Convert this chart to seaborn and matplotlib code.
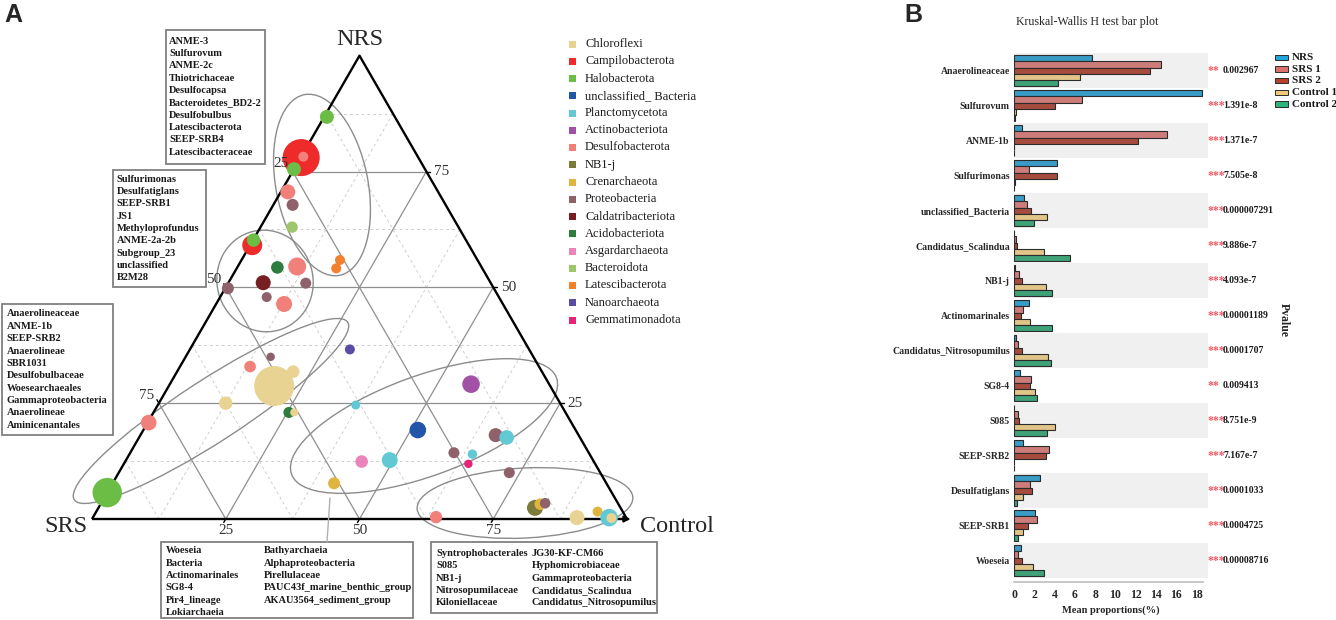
import numpy as np
import pandas as pd
import matplotlib
matplotlib.use("Agg")
import matplotlib.pyplot as plt
import seaborn as sns
from matplotlib.patches import Ellipse, Rectangle

sns.set_theme(style="white")
plt.rcParams["font.family"] = ["Liberation Serif", "DejaVu Serif"]

# ---------------- Panel A data (ternary: NRS / SRS / Control, %) ----------------
phyla = ["Chloroflexi", "Campilobacterota", "Halobacterota", "unclassified_ Bacteria",
         "Planctomycetota", "Actinobacteriota", "Desulfobacterota", "NB1-j",
         "Crenarchaeota", "Proteobacteria", "Caldatribacteriota", "Acidobacteriota",
         "Asgardarchaeota", "Bacteroidota", "Latescibacterota", "Nanoarchaeota",
         "Gemmatimonadota"]
phylum_colors = ["#E9D393", "#EE2A2A", "#6CBD45", "#2256A8", "#62C9D4", "#A152A6",
                 "#F1807B", "#7D7B3A", "#DFB540", "#8F626B", "#761E22", "#2E7D3F",
                 "#EA84BA", "#9EC66C", "#F2812E", "#5B4CA3", "#E8237A"]

tern_phylum = ["Halobacterota", "Campilobacterota", "Desulfobacterota", "Halobacterota",
               "Desulfobacterota", "Proteobacteria", "Bacteroidota", "Campilobacterota",
               "Halobacterota", "Acidobacteriota", "Desulfobacterota", "Caldatribacteriota",
               "Proteobacteria", "Proteobacteria", "Proteobacteria", "Desulfobacterota",
               "Latescibacterota", "Latescibacterota", "Proteobacteria", "Desulfobacterota",
               "Chloroflexi", "Chloroflexi", "Chloroflexi", "Acidobacteriota",
               "Chloroflexi", "Desulfobacterota", "Halobacterota", "Crenarchaeota",
               "Nanoarchaeota", "Actinobacteriota", "Planctomycetota", "unclassified_ Bacteria",
               "Proteobacteria", "Planctomycetota", "Proteobacteria", "Planctomycetota",
               "Gemmatimonadota", "Asgardarchaeota", "Planctomycetota", "Proteobacteria",
               "Desulfobacterota", "NB1-j", "Crenarchaeota", "Proteobacteria",
               "Chloroflexi", "Crenarchaeota", "Planctomycetota", "Chloroflexi"]
tern_nrs = [86.8, 78.0, 78.2, 75.5, 70.6, 67.8, 63.0, 59.1, 60.2, 54.3, 54.5, 51.0,
            50.9, 49.8, 47.9, 46.4, 55.9, 54.1, 35.0, 32.9, 28.7, 31.8, 25.0, 23.0,
            23.0, 20.8, 5.7, 7.7, 36.6, 29.1, 24.6, 19.2, 18.1, 17.6, 14.3, 14.0,
            11.9, 12.4, 12.7, 10.0, 0.4, 2.4, 3.2, 3.4, 0.3, 1.6, 0.3, 0.2]
tern_srs = [12.7, 21.9, 21.4, 24.5, 28.1, 28.6, 31.1, 40.5, 39.7, 38.2, 34.4, 42.5,
            34.6, 49.7, 43.4, 40.9, 25.7, 27.3, 49.1, 54.0, 51.6, 46.5, 62.5, 51.7,
            50.7, 79.0, 94.3, 50.9, 33.5, 14.6, 38.4, 29.5, 15.5, 13.7, 25.2, 21.9,
            23.7, 43.4, 38.0, 17.0, 35.5, 16.0, 14.6, 13.6, 9.2, 4.7, 3.2, 2.8]
tern_ctrl = [0.5, 0.1, 0.4, 0.0, 1.3, 3.6, 5.9, 0.4, 0.1, 7.5, 11.1, 6.5,
             14.5, 0.5, 8.7, 12.7, 18.4, 18.6, 15.9, 13.1, 19.7, 21.7, 12.5, 25.3,
             26.3, 0.2, 0.0, 41.4, 29.9, 56.3, 37.0, 51.3, 66.4, 68.7, 60.5, 64.1,
             64.4, 44.2, 49.3, 73.0, 64.1, 81.6, 82.2, 83.0, 90.5, 93.7, 96.5, 97.0]
tern_abund = [1.47, 10.3, 0.75, 1.47, 1.69, 1.08, 0.97, 3.0, 1.35, 1.19, 2.43, 1.69,
              0.91, 1.08, 0.75, 1.92, 0.75, 0.75, 0.53, 1.01, 12.0, 1.19, 1.35, 0.91,
              0.48, 1.83, 6.48, 1.08, 0.75, 2.32, 0.61, 2.07, 1.47, 1.60, 0.91, 0.66,
              0.53, 1.19, 1.92, 0.91, 1.15, 1.92, 1.01, 0.84, 1.69, 0.75, 2.32, 0.75]

box_texts = [
    ["ANME-3", "Sulfurovum", "ANME-2c", "Thiotrichaceae", "Desulfocapsa",
     "Bacteroidetes_BD2-2", "Desulfobulbus", "Latescibacterota", "SEEP-SRB4",
     "Latescibacteraceae"],
    ["Sulfurimonas", "Desulfatiglans", "SEEP-SRB1", "JS1", "Methyloprofundus",
     "ANME-2a-2b", "Subgroup_23", "unclassified", "B2M28"],
    ["Anaerolineaceae", "ANME-1b", "SEEP-SRB2", "Anaerolineae", "SBR1031",
     "Desulfobulbaceae", "Woesearchaeales", "Gammaproteobacteria", "Anaerolineae",
     "Aminicenantales"],
]
box4_col1 = ["Woeseia", "Bacteria", "Actinomarinales", "SG8-4", "Pir4_lineage", "Lokiarchaeia"]
box4_col2 = ["Bathyarchaeia", "Alphaproteobacteria", "Pirellulaceae",
             "PAUC43f_marine_benthic_group", "AKAU3564_sediment_group"]
box5_col1 = ["Syntrophobacterales", "S085", "NB1-j", "Nitrosopumilaceae", "Kiloniellaceae"]
box5_col2 = ["JG30-KF-CM66", "Hyphomicrobiaceae", "Gammaproteobacteria",
             "Candidatus_Scalindua", "Candidatus_Nitrosopumilus"]

# ---------------- Panel B data ----------------
taxa = ["Anaerolineaceae", "Sulfurovum", "ANME-1b", "Sulfurimonas", "unclassified_Bacteria",
        "Candidatus_Scalindua", "NB1-j", "Actinomarinales", "Candidatus_Nitrosopumilus",
        "SG8-4", "S085", "SEEP-SRB2", "Desulfatiglans", "SEEP-SRB1", "Woeseia"]
groups = ["NRS", "SRS 1", "SRS 2", "Control 1", "Control 2"]
group_colors = ["#22A5DD", "#D9716D", "#B73F2E", "#EEC97A", "#2EB37B"]
nrs_vals = [7.65, 18.49, 0.82, 4.2, 0.95, 0.02, 0.05, 1.44, 0.16, 0.56, 0.03, 0.89, 2.59, 2.04, 0.66]
srs1_vals = [14.45, 6.67, 15.04, 1.51, 1.25, 0.16, 0.53, 0.85, 0.36, 1.71, 0.36, 3.42, 1.54, 2.3, 0.36]
srs2_vals = [13.37, 4.04, 12.18, 4.2, 1.64, 0.26, 0.79, 0.69, 0.79, 1.54, 0.53, 3.15, 1.74, 1.38, 0.82]
ctrl1_vals = [6.54, 0.16, 0.03, 0.05, 3.22, 2.99, 3.19, 1.58, 3.32, 2.04, 4.04, 0.02, 0.92, 0.92, 1.84]
ctrl2_vals = [4.3, 0.08, 0.02, 0.02, 1.94, 5.48, 3.71, 3.71, 3.61, 2.23, 3.25, 0.01, 0.33, 0.36, 2.99]
pvalues = ["0.002967", "1.391e-8", "1.371e-7", "7.505e-8", "0.000007291", "9.886e-7",
           "4.093e-7", "0.00001189", "0.0001707", "0.009413", "8.751e-9", "7.167e-7",
           "0.0001033", "0.0004725", "0.00008716"]

# ---------------- figure ----------------
W, H = 1336, 620
fig = plt.figure(figsize=(W / 100, H / 100), dpi=100)

# ternary axes: unit triangle, SRS (0,0), Control (1,0), NRS (0.5, 0.866)
S = 535.0   # px per unit
X0, Y0 = 92.0, 519.0
axt = fig.add_axes([0, 0, 700 / W, 1])
xlim_t = (-X0 / S, (700 - X0) / S)
ylim_t = ((Y0 - H) / S, Y0 / S)

def tern_xy(n, s, c):
    n = np.asarray(n, float); s = np.asarray(s, float); c = np.asarray(c, float)
    tot = n + s + c
    n, c = n / tot, c / tot
    return c + n / 2.0, n * np.sqrt(3) / 2.0

# grid
for v in [0.125, 0.25, 0.375, 0.5, 0.625, 0.75, 0.875]:
    major = v in (0.25, 0.5, 0.75)
    kw = dict(color="#8f8f8f", lw=0.9, zorder=1) if major else \
        dict(color="#cfcfcf", lw=0.7, ls=(0, (3, 3)), zorder=1)
    for a, b in [((v, 1 - v, 0), (v, 0, 1 - v)),
                 ((1 - v, v, 0), (0, v, 1 - v)),
                 ((1 - v, 0, v), (0, 1 - v, v))]:
        xa, ya = tern_xy(*a); xb, yb = tern_xy(*b)
        axt.plot([xa, xb], [ya, yb], **kw)

# edges
tri_x, tri_y = tern_xy([0, 0, 1, 0], [1, 0, 0, 1], [0, 1, 0, 0])
axt.plot(tri_x, tri_y, color="black", lw=1.7, zorder=3, solid_capstyle="butt")
axt.annotate("", xy=(1.012, 0), xytext=(0.96, 0),
             arrowprops=dict(arrowstyle="-|>", color="black", lw=1.5, mutation_scale=9),
             zorder=3)

# ticks and tick labels
tl = 4 / S
for v in [0.25, 0.5, 0.75]:
    lab = str(int(v * 100))
    x, y = tern_xy(1 - v, v, 0)          # SRS on left edge
    axt.plot([x, x - 0.5 * tl], [y, y + 0.866 * tl], color="black", lw=1.0, zorder=3)
    axt.text(x - 12 / S, y + 8 / S, lab, ha="center", va="center", fontsize=11,
             color="#333333", zorder=6)
    x, y = tern_xy(v, 0, 1 - v)          # NRS on right edge
    axt.plot([x, x + tl], [y, y], color="black", lw=1.0, zorder=3)
    axt.text(x + 15 / S, y, lab, ha="center", va="center", fontsize=11,
             color="#333333", zorder=6)
    x, y = tern_xy(0, 1 - v, v)          # Control on bottom edge
    axt.plot([x, x - 0.5 * tl], [y, y - 0.866 * tl], color="black", lw=1.0, zorder=3)
    axt.text(x, y - 12 / S, lab, ha="center", va="center", fontsize=11,
             color="#333333", zorder=6)

axt.text(0.5, 0.866 + 16 / S, "NRS", ha="center", va="center", fontsize=17.5)
axt.text(-26 / S, -8 / S, "SRS", ha="center", va="center", fontsize=17.5)
axt.text(1.0 + 13 / S, -8 / S, "Control", ha="left", va="center", fontsize=17.5)

# group ellipses (cartesian ternary units)
ellipses = [((0.4299, 0.6243), 0.172, 0.344, 11),
            ((0.3234, 0.4449), 0.1794, 0.1907, 15),
            ((0.2224, 0.2019), 0.6093, 0.1159, 33),
            ((0.6206, 0.1738), 0.527, 0.187, 20),
            ((0.8093, 0.0299), 0.4037, 0.1308, 3)]
for c, w, h, ang in ellipses:
    axt.add_patch(Ellipse(c, w, h, angle=ang, fill=False, edgecolor="#8c8c8c",
                          lw=1.0, zorder=2, clip_on=False))

# points
px, py = tern_xy(tern_nrs, tern_srs, tern_ctrl)
dft = pd.DataFrame({"x": px, "y": py, "phylum": tern_phylum, "abund": tern_abund})
sns.scatterplot(data=dft, x="x", y="y", hue="phylum", hue_order=phyla,
                palette=dict(zip(phyla, phylum_colors)), size="abund",
                sizes=(0, 829), size_norm=(0, 12), linewidth=0, alpha=1,
                legend=False, ax=axt, zorder=4, clip_on=False)
axt.set_xlim(*xlim_t)
axt.set_ylim(*ylim_t)
axt.axis("off")

# ---------------- Panel B ----------------
px_per_unit = 10.15
xmax_b = 19.1
axb = fig.add_axes([1014 / W, (H - 582) / H, xmax_b * px_per_unit / W, 532 / H])
dfb = pd.DataFrame({
    "taxon": np.tile(taxa, len(groups)),
    "group": np.repeat(groups, len(taxa)),
    "value": np.concatenate([nrs_vals, srs1_vals, srs2_vals, ctrl1_vals, ctrl2_vals]),
})
for i in range(0, len(taxa), 2):
    axb.axhspan(i - 0.5, i + 0.5, color="#F0F0F0", lw=0, zorder=0)
sns.barplot(data=dfb, y="taxon", x="value", hue="group", order=taxa, hue_order=groups,
            palette=dict(zip(groups, group_colors)), width=0.86, orient="h",
            edgecolor="#2b2b2b", linewidth=0.8, legend=False, ax=axb, zorder=2)
axb.set_xlim(0, xmax_b)
axb.set_ylim(14.614, -0.586)
axb.set_xticks(np.arange(0, 19, 2))
axb.set_xlabel("Mean proportions(%)", fontsize=7.5, fontweight="bold", labelpad=3)
axb.set_ylabel("")
for side in ["top", "right", "left"]:
    axb.spines[side].set_visible(False)
axb.spines["bottom"].set_color("#bdbdbd")
axb.spines["bottom"].set_linewidth(1.2)
axb.spines["bottom"].set_bounds(0, 18.6)
axb.tick_params(axis="x", length=3, width=0.8, color="#444444", labelsize=8.5, pad=2)
axb.tick_params(axis="y", length=0, labelsize=7, pad=3)
for t in axb.get_xticklabels() + axb.get_yticklabels():
    t.set_fontweight("bold")
axb.set_facecolor("white")

for i, p in enumerate(pvalues):
    pv = float(p)
    stars = "***" if pv < 0.001 else ("**" if pv < 0.01 else "*")
    axb.text((1208 - 1014) / px_per_unit, i, stars, color="#EE5A63", fontsize=8.5,
             fontweight="bold", ha="left", va="center", clip_on=False)
    axb.text((1223 - 1014) / px_per_unit, i, p, color="#1a1a1a", fontsize=7,
             fontweight="bold", ha="left", va="center", clip_on=False)

# ---------------- overlay (labels, boxes, legends) ----------------
ov = fig.add_axes([0, 0, 1, 1], zorder=5)
ov.set_xlim(0, W)
ov.set_ylim(H, 0)
ov.axis("off")

ov.text(4, 15, "A", fontsize=18, fontweight="bold", family="Liberation Sans",
        ha="left", va="center")
ov.text(904, 15, "B", fontsize=18, fontweight="bold", family="Liberation Sans",
        ha="left", va="center")
ov.text(1087, 22, "Kruskal-Wallis H test bar plot", fontsize=8.6, ha="center", va="center")
ov.text(1284, 320, "Pvalue", fontsize=8.5, fontweight="bold", rotation=270,
        ha="center", va="center")

box_fs = 7.5
step = 12.37
box_geo = [((166, 30, 265, 164), 169.3, 41.0),
           ((113, 170, 206, 287), 116.7, 179.0),
           ((2, 304, 113, 435), 6.7, 314.0)]
for ((x0, y0, x1, y1), tx, ty), lines in zip(box_geo, box_texts):
    ov.add_patch(Rectangle((x0, y0), x1 - x0, y1 - y0, facecolor="white",
                           edgecolor="#808080", lw=1.3))
    for k, s in enumerate(lines):
        ov.text(tx, ty + k * step, s, fontsize=box_fs, fontweight="bold",
                ha="left", va="center", color="#1a1a1a")

ov.add_patch(Rectangle((161, 542), 252, 76, facecolor="white", edgecolor="#808080", lw=1.3))
for k, s in enumerate(box4_col1):
    ov.text(165.7, 550.7 + k * step, s, fontsize=box_fs, fontweight="bold", va="center", color="#1a1a1a")
for k, s in enumerate(box4_col2):
    ov.text(264.3, 550.7 + k * step, s, fontsize=box_fs, fontweight="bold", va="center", color="#1a1a1a")
ov.add_patch(Rectangle((431, 542), 226, 71, facecolor="white", edgecolor="#808080", lw=1.3))
for k, s in enumerate(box5_col1):
    ov.text(436, 553.3 + k * step, s, fontsize=box_fs, fontweight="bold", va="center", color="#1a1a1a")
for k, s in enumerate(box5_col2):
    ov.text(531.7, 553.3 + k * step, s, fontsize=box_fs, fontweight="bold", va="center", color="#1a1a1a")
ov.plot([327, 330], [542, 498], color="#b0b0b0", lw=1.0)

# legend A
for k, (name, col) in enumerate(zip(phyla, phylum_colors)):
    yy = 44 + k * 17.25
    ov.add_patch(Rectangle((568.5, yy - 3.5), 7, 7, facecolor=col, edgecolor="none"))
    ov.text(585, yy, name, fontsize=9, ha="left", va="center", color="#1a1a1a")

# legend B
for k, (name, col) in enumerate(zip(groups, group_colors)):
    yy = 57.3 + k * 11.7
    ov.add_patch(Rectangle((1275, yy - 2.8), 13, 5.6, facecolor=col, edgecolor="#2b2b2b", lw=0.7))
    ov.text(1292, yy, name, fontsize=8, fontweight="bold", ha="left", va="center", color="#1a1a1a")

fig.savefig("out.png", dpi=100)
